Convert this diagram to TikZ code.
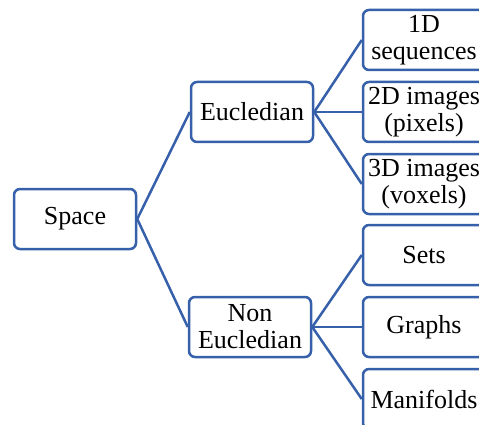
\documentclass[tikz,border=0pt]{standalone}
\usepackage{fontspec}
\setmainfont{Liberation Serif}
\usetikzlibrary{positioning}
\definecolor{boxblue}{RGB}{54,96,170}

\begin{document}
\begin{tikzpicture}[x=1pt, y=-1pt,
    box/.style={draw=boxblue, line width=2.5pt, rounded corners=6pt, fill=white,
        minimum width=122pt, minimum height=60pt, inner sep=1pt, align=center,
        font=\fontsize{26}{27}\selectfont},
    link/.style={draw=boxblue, line width=2.5pt}]
    \useasboundingbox (0,0) rectangle (479,425);
    \clip (0,0) rectangle (479,425);

    % Root
    \node[box] (space) at (75,219) {Space};

    % Second level
    \node[box] (eucl) at (252,112) {Eucledian};
    \node[box] (noneucl) at (250,327) {Non\\Eucledian};

    % Leaves
    \foreach \nm/\yy/\txt in {seq/40/{1D\\sequences}, pix/112/{2D images\\(pixels)},
        vox/184/{3D images\\(voxels)}, sets/255/{Sets}, graphs/327/{Graphs},
        mani/399/{Manifolds}}
        \node[box] (\nm) at (424,\yy) {\txt};

    % Links
    \draw[link] (space.east) -- (eucl.west);
    \draw[link] (space.east) -- (noneucl.west);
    \foreach \nm in {seq, pix, vox}
        \draw[link] (eucl.east) -- (\nm.west);
    \foreach \nm in {sets, graphs, mani}
        \draw[link] (noneucl.east) -- (\nm.west);
\end{tikzpicture}
\end{document}
